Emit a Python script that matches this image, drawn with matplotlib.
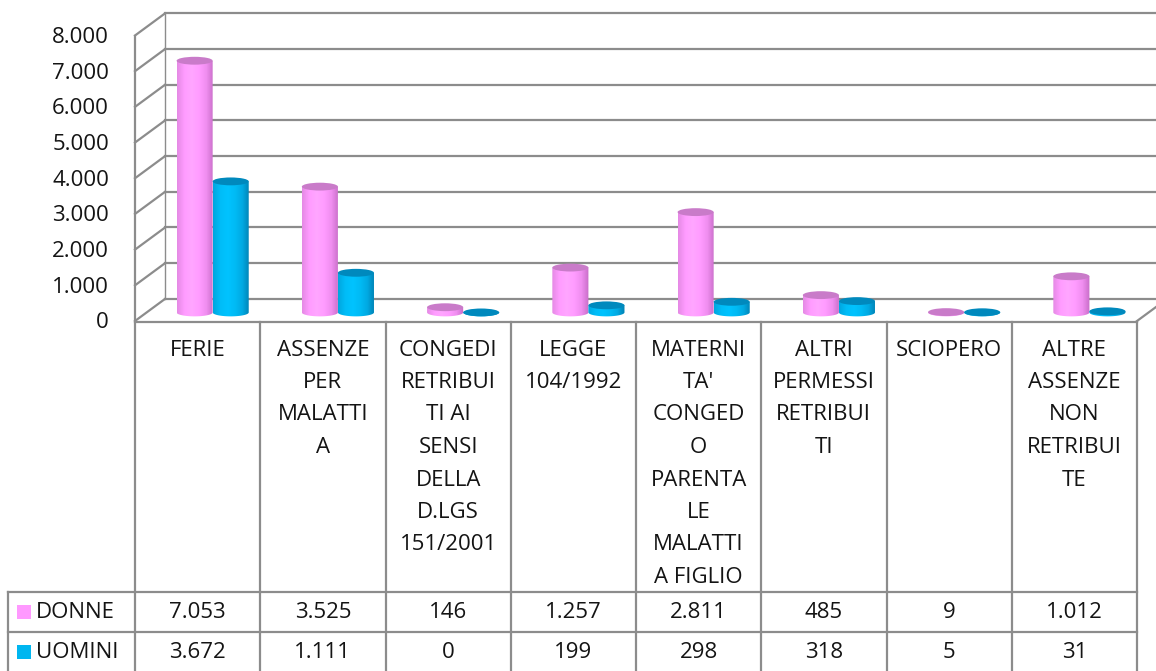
import numpy as np
import matplotlib
matplotlib.use("Agg")
import matplotlib.pyplot as plt
from matplotlib.patches import Ellipse, PathPatch, Rectangle
from matplotlib.path import Path
from matplotlib.transforms import blended_transform_factory

plt.rcParams['font.family'] = ['Open Sans', 'DejaVu Sans']

# ---------------- data ----------------
categories = [
    ["FERIE"],
    ["ASSENZE", "PER", "MALATTI", "A"],
    ["CONGEDI", "RETRIBUI", "TI AI", "SENSI", "DELLA", "D.LGS", "151/2001"],
    ["LEGGE", "104/1992"],
    ["MATERNI", "TA'", "CONGED", "O", "PARENTA", "LE", "MALATTI", "A FIGLIO"],
    ["ALTRI", "PERMESSI", "RETRIBUI", "TI"],
    ["SCIOPERO"],
    ["ALTRE", "ASSENZE", "NON", "RETRIBUI", "TE"],
]
series_names = ["DONNE", "UOMINI"]
donne = [7053, 3525, 146, 1257, 2811, 485, 9, 1012]
uomini = [3672, 1111, 0, 199, 298, 318, 5, 31]
y_ticks = [0, 1000, 2000, 3000, 4000, 5000, 6000, 7000, 8000]

def fmt(v):
    return f"{v:,}".replace(",", ".")

# ---------------- figure ----------------
W, H = 1156, 671
fig = plt.figure(figsize=(W / 100, H / 100), dpi=100)
FS = 16
TXT = '#141414'

# overlay axes in pixel coordinates (for the table layout)
ov = fig.add_axes([0, 0, 1, 1])
ov.set_xlim(0, W)
ov.set_ylim(H, 0)
ov.axis('off')

# front plane of the 3D chart
x_left, x_right = 135, 1137
y_zero, y_top = 321, 35.5
ax = fig.add_axes([x_left / W, 1 - y_zero / H, (x_right - x_left) / W, (y_zero - y_top) / H])
n = len(donne)
ax.set_xlim(-0.5, n - 0.5)
ax.set_ylim(0, 8000)
ax.axis('off')

# depth offset (back wall), in data units
dx = 0.24
dy = 620.0
grid_c = '#8c8c8c'
glw = 1.6

# walls and gridlines
for v in y_ticks:
    ax.plot([-0.5, -0.5 + dx], [v, v + dy], color=grid_c, lw=glw, clip_on=False, zorder=1)
    ax.plot([-0.5 + dx, n - 0.5 + dx + 0.2], [v + dy, v + dy], color=grid_c, lw=glw,
            clip_on=False, zorder=1)
ax.plot([-0.5 + dx, -0.5 + dx], [dy, 8000 + dy], color=grid_c, lw=1.0, clip_on=False, zorder=1)
# floor right edge
ax.plot([n - 0.5, n - 0.5 + dx], [0, dy], color=grid_c, lw=glw, clip_on=False, zorder=1)

# cylinders
bw = 0.288
eh = 220.0
base = 240.0
xoff = 0.12

pink_grad = ['#e58ae5', '#ff9cff', '#ffa6ff', '#ff9cff', '#f08ef0', '#c86ec8']
blue_grad = ['#00a6df', '#00bdf8', '#00c3ff', '#00bbf5', '#00a9e2', '#0082b4']
top_cols = ['#c97bc9', '#0089bd']

def hex2rgb(h):
    return [int(h[i:i + 2], 16) / 255 for i in (1, 3, 5)]

def grad_img(stops, npx=60):
    stops = np.array([hex2rgb(s) for s in stops])
    xs = np.linspace(0, 1, len(stops))
    t = np.linspace(0, 1, npx)
    img = np.stack([np.interp(t, xs, stops[:, k]) for k in range(3)], axis=-1)
    return img[np.newaxis, :, :]

def cylinder(cx, val, grad, topc):
    x0, x1 = cx - bw / 2, cx + bw / 2
    b = base
    top = base + val
    th = np.linspace(np.pi, 2 * np.pi, 40)
    verts = [(cx + bw / 2 * np.cos(t), b + eh / 2 * np.sin(t)) for t in th]
    verts += [(x1, top), (x0, top), verts[0]]
    codes = [Path.MOVETO] + [Path.LINETO] * (len(verts) - 2) + [Path.CLOSEPOLY]
    clip = PathPatch(Path(verts, codes), facecolor='none', edgecolor='none',
                     transform=ax.transData)
    ax.add_patch(clip)
    im = ax.imshow(grad_img(grad), extent=[x0, x1, b - eh / 2 - 5, top + 5],
                   aspect='auto', zorder=3, interpolation='bilinear')
    im.set_clip_path(clip)
    ax.add_patch(Ellipse((cx, top), bw, eh, facecolor=topc, edgecolor='none', zorder=4))

for i in range(n):
    c = i + xoff
    cylinder(c - bw / 2, donne[i], pink_grad, top_cols[0])
    cylinder(c + bw / 2, uomini[i], blue_grad, top_cols[1])

ax.set_xlim(-0.5, n - 0.5)
ax.set_ylim(0, 8000)

# y tick labels
for v in y_ticks:
    yp = y_zero - (y_zero - y_top) * v / 8000
    ov.text(109, yp + 2, fmt(v), ha='right', va='center', fontsize=FS, color=TXT)

# ---------------- data table ----------------
tr = blended_transform_factory(ax.transData, ov.transData)
tab_top = 322
row1_top = 592
row2_top = 632
tab_bottom = 672
line_c = '#8c8c8c'

# horizontal lines
ov.plot([x_left, x_right], [tab_top, tab_top], color=line_c, lw=glw, zorder=1)
ov.plot([8, x_right], [row1_top, row1_top], color=line_c, lw=glw)
ov.plot([8, x_right], [row2_top, row2_top], color=line_c, lw=glw)
# front left vertical edge (axis + table)
ov.plot([x_left, x_left], [y_top, tab_bottom], color=line_c, lw=glw)
ov.plot([8, 8], [row1_top, tab_bottom], color=line_c, lw=glw)
# column separators
for i in range(n):
    ax.plot([i + 0.5, i + 0.5], [tab_top, tab_bottom], color=line_c, lw=glw,
            transform=tr, clip_on=False)

# category labels
line_h = 32.5
for i, lines in enumerate(categories):
    for j, s in enumerate(lines):
        ax.text(i, 350 + j * line_h, s, transform=tr, ha='center', va='center',
                fontsize=FS, color=TXT, clip_on=False)

# value rows
legend_cols = ['#ff99ff', '#00b6f0']
rows = [donne, uomini]
row_centers = [612, 652]
for r, (vals, yc) in enumerate(zip(rows, row_centers)):
    ov.add_patch(Rectangle((17, yc - 7), 14, 14, facecolor=legend_cols[r], edgecolor='none'))
    ov.text(36, yc, series_names[r], ha='left', va='center', fontsize=FS, color=TXT)
    for i, v in enumerate(vals):
        ax.text(i, yc, fmt(v), transform=tr, ha='center', va='center', fontsize=FS,
                color=TXT, clip_on=False)

fig.savefig('out.png', dpi=100)
